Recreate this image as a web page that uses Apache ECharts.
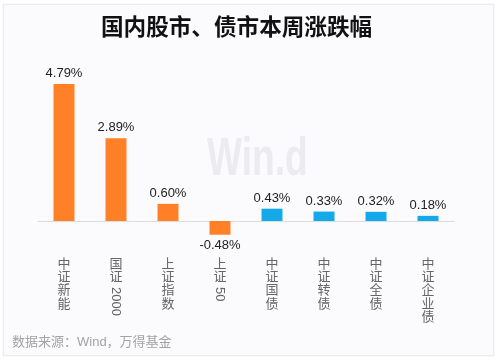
<!DOCTYPE html>
<html><head><meta charset="utf-8">
<script src="https://cdn.jsdelivr.net/npm/echarts@6/dist/echarts.min.js"></script>
<style>
html,body{margin:0;padding:0;background:#fff;width:500px;height:360px;overflow:hidden}
#card{position:absolute;left:3px;top:4px;width:489px;height:350px;background:#fbfbfe;border:1px solid #ececf2;box-shadow:0 0 2px rgba(0,0,0,0.08)}
#chart{position:absolute;left:0;top:0;width:500px;height:360px}
</style></head>
<body><div id="card"></div><div id="chart"></div>
<script>
var categories = ['中证新能','国证2000','上证指数','上证50','中证国债','中证转债','中证全债','中证企业债'];
var values = [4.79, 2.89, 0.60, -0.48, 0.43, 0.33, 0.32, 0.18];
var groupIsStock = [true, true, true, true, false, false, false, false];
var titleText = '国内股市、债市本周涨跌幅';
var sourceText = '数据来源：Wind，万得基金';

var ORANGE = '#FF8027', BLUE = '#14A9E9';
var FONT = '"Liberation Sans","Noto Sans CJK SC",sans-serif';

function cjkPart(s){
  return s.replace(/[0-9]+/g,'').split('').map(function(c){return '{c|'+c+'}';}).join('\n');
}
function digitPart(s){ var m = s.match(/[0-9]+/); return m ? m[0] : ''; }

var chart = echarts.init(document.getElementById('chart'), null, {renderer:'canvas'});
chart.setOption({
  animation:false,
  backgroundColor:'transparent',
  title:{text:titleText,left:96,top:12,textStyle:{fontSize:22.6,fontWeight:'bold',color:'#111',fontFamily:FONT}},
  graphic:[
    {type:'text',left:207,top:134,scaleX:0.7,z:0,silent:true,style:{text:'Win.d',fontSize:53,fontWeight:'bold',fill:'#ebebf0',fontFamily:'"Liberation Sans",sans-serif'}},
    {type:'text',left:12,top:336,style:{text:sourceText,fontSize:13,fill:'#a3a3a3',fontFamily:FONT}}
  ],
  grid:{left:38,right:46,top:78,bottom:110.4,containLabel:false,outerBoundsMode:'none'},
  xAxis:[{
    type:'category',data:categories,
    axisLine:{show:true,onZero:true,lineStyle:{color:'#dcdcdc',width:1}},
    axisTick:{show:false},
    axisLabel:{show:false}
  },{
    type:'category',data:categories,position:'bottom',
    axisLine:{show:false,onZero:false},axisTick:{show:false},
    axisLabel:{interval:0,margin:8,color:'#666',fontFamily:FONT,formatter:cjkPart,
      rich:{c:{fontSize:13,lineHeight:13.3,color:'#666',fontFamily:FONT}}}
  },{
    type:'category',data:categories,position:'bottom',
    axisLine:{show:false,onZero:false},axisTick:{show:false},
    axisLabel:{interval:0,rotate:-90,margin:37.5,fontSize:13,color:'#666',fontFamily:FONT,formatter:digitPart}
  }],
  yAxis:{type:'value',min:-1,max:5,show:false,splitLine:{show:false}},
  series:[{
    type:'bar',barWidth:21,
    data:values.map(function(v,i){
      return {value:v,itemStyle:{color:groupIsStock[i]?ORANGE:BLUE},
        label:{position:v<0?'bottom':'top'}};
    }),
    label:{show:true,distance:4,fontSize:13,color:'#222',fontFamily:FONT,
      formatter:function(p){return p.value.toFixed(2)+'%';}}
  }]
});
</script></body></html>
